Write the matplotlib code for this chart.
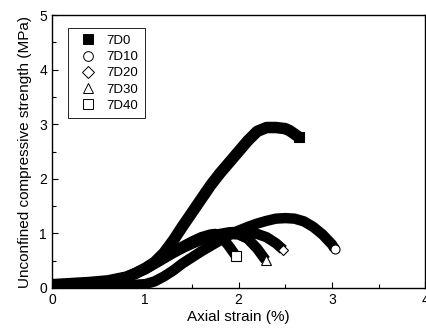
import numpy as np
import matplotlib
matplotlib.use("Agg")
import matplotlib.pyplot as plt
from matplotlib.lines import Line2D

plt.rcParams['font.family'] = ['Liberation Sans', 'DejaVu Sans']

labels = ["7D0", "7D10", "7D20", "7D30", "7D40"]
markers = ["s", "o", "D", "^", "s"]

x_7d0 = [0, 0.2, 0.4, 0.6, 0.8, 0.9, 1.0, 1.1, 1.2, 1.3, 1.4, 1.5, 1.6, 1.7,
         1.8, 1.9, 2.0, 2.1, 2.2, 2.3, 2.4, 2.5, 2.55, 2.6, 2.65]
y_7d0 = [0.06, 0.08, 0.1, 0.13, 0.2, 0.27, 0.36, 0.47, 0.64, 0.87, 1.13, 1.38,
         1.63, 1.88, 2.1, 2.3, 2.5, 2.7, 2.87, 2.94, 2.94, 2.92, 2.88, 2.82, 2.76]

x_7d10 = [0, 0.4, 0.8, 1.0, 1.1, 1.2, 1.3, 1.4, 1.5, 1.6, 1.7, 1.8, 1.9, 2.0,
          2.1, 2.2, 2.3, 2.4, 2.5, 2.6, 2.7, 2.8, 2.9, 3.0, 3.03]
y_7d10 = [0.03, 0.04, 0.05, 0.07, 0.12, 0.21, 0.32, 0.45, 0.56, 0.67, 0.77, 0.87,
          0.97, 1.05, 1.12, 1.18, 1.23, 1.27, 1.28, 1.27, 1.22, 1.12, 0.98, 0.8, 0.72]

x_7d20 = [0, 0.3, 0.6, 0.8, 1.0, 1.1, 1.2, 1.3, 1.4, 1.5, 1.6, 1.7, 1.8, 1.9,
          2.0, 2.1, 2.2, 2.3, 2.4, 2.48]
y_7d20 = [0.05, 0.08, 0.12, 0.2, 0.35, 0.45, 0.55, 0.65, 0.74, 0.82, 0.9, 0.95,
          0.99, 1.02, 1.03, 1.02, 0.99, 0.93, 0.82, 0.70]

x_7d30 = [0, 0.3, 0.6, 0.8, 1.0, 1.1, 1.2, 1.3, 1.4, 1.5, 1.6, 1.7, 1.8, 1.9,
          2.0, 2.1, 2.2, 2.29]
y_7d30 = [0.05, 0.08, 0.12, 0.2, 0.34, 0.44, 0.54, 0.64, 0.73, 0.81, 0.88, 0.94,
          0.98, 0.99, 0.98, 0.9, 0.72, 0.51]

x_7d40 = [0, 0.3, 0.6, 0.8, 1.0, 1.1, 1.2, 1.3, 1.4, 1.5, 1.6, 1.7, 1.75,
          1.8, 1.85, 1.9, 1.97]
y_7d40 = [0.05, 0.08, 0.12, 0.2, 0.36, 0.46, 0.56, 0.66, 0.76, 0.85, 0.93, 0.98,
          0.99, 0.96, 0.87, 0.76, 0.59]

series = [(x_7d0, y_7d0), (x_7d10, y_7d10), (x_7d20, y_7d20),
          (x_7d30, y_7d30), (x_7d40, y_7d40)]

fig = plt.figure(figsize=(4.26, 3.36), dpi=100)
ax = fig.add_axes([0.122, 0.143, 0.876, 0.812])

# dense markers in the original merge into thick bands
for (xs, ys), m, lab in zip(series, markers, labels):
    ax.plot(xs, ys, color="k", lw=8.3 if lab == "7D0" else 7.5,
            solid_capstyle="butt", solid_joinstyle="round", zorder=2)
    face = "k" if lab == "7D0" else "white"
    ax.plot(xs[-1:], ys[-1:], ls="none", marker=m, ms=6.5 if m != "D" else 5.5,
            mfc=face, mec="k", mew=0.8, zorder=3)

handles = [Line2D([], [], ls="none", marker=m, ms=7 if m != "D" else 6,
                  mfc=("k" if lab == "7D0" else "white"), mec="k", mew=0.7)
           for m, lab in zip(markers, labels)]
leg = ax.legend(handles, labels, loc="upper left", bbox_to_anchor=(0.043, 0.952),
                borderaxespad=0, fontsize=9.5, labelspacing=0.3,
                handletextpad=0.4, borderpad=0.5, fancybox=False,
                framealpha=1, edgecolor="k")
leg.get_frame().set_linewidth(0.6)

ax.set_xlim(0, 4)
ax.set_ylim(0, 5)
ax.set_xticks([0, 1, 2, 3, 4])
ax.set_xticks(np.arange(0.5, 4, 1), minor=True)
ax.set_yticks([0, 1, 2, 3, 4, 5])
ax.set_yticks(np.arange(0.5, 5, 1), minor=True)
ax.tick_params(which="both", direction="in", top=False, right=False,
               labelsize=10)
ax.tick_params(which="major", length=4, width=0.8)
ax.tick_params(which="minor", length=3, width=0.8)
for s in ax.spines.values():
    s.set_linewidth(1.0)

ax.set_xlabel("Axial strain (%)", fontsize=11, labelpad=2)
ax.set_ylabel("Unconfined compressive strength (MPa)", fontsize=11, labelpad=5)

fig.savefig("out.png", dpi=100)
